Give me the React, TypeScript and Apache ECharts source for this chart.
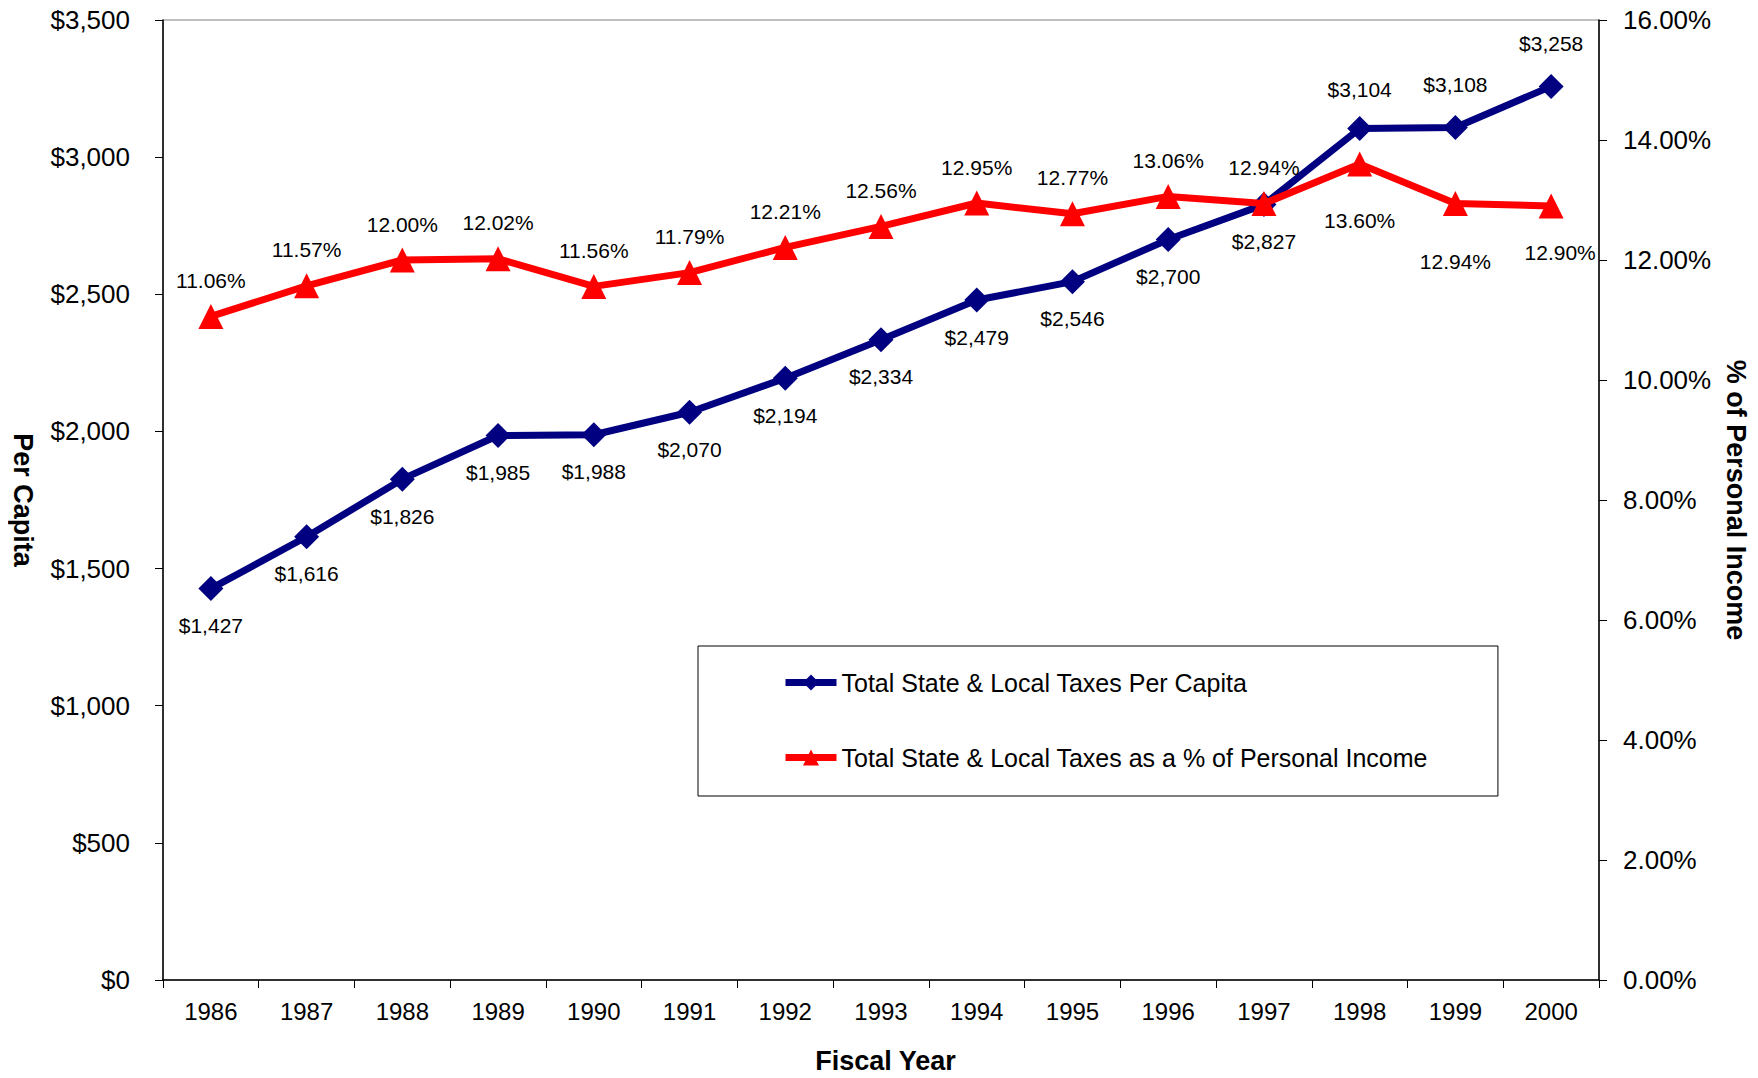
import React, { useEffect, useRef } from "react";
import * as echarts from "echarts";

const years = ["1986", "1987", "1988", "1989", "1990", "1991", "1992", "1993", "1994", "1995", "1996", "1997", "1998", "1999", "2000"];
const perCapita = [1427, 1616, 1826, 1985, 1988, 2070, 2194, 2334, 2479, 2546, 2700, 2827, 3104, 3108, 3258];
const pctIncome = [11.06, 11.57, 12.0, 12.02, 11.56, 11.79, 12.21, 12.56, 12.95, 12.77, 13.06, 12.94, 13.6, 12.94, 12.9];
const leftTicks = [0, 500, 1000, 1500, 2000, 2500, 3000, 3500];
const rightTicks = [0, 2, 4, 6, 8, 10, 12, 14, 16];

const seriesNames = [
  "Total State & Local Taxes Per Capita",
  "Total State & Local Taxes as a % of Personal Income",
];

const FONT = "Liberation Sans, Arial, sans-serif";

const fmtDollar = (v: number) => "$" + v.toLocaleString("en-US");
const fmtPct = (v: number) => v.toFixed(2) + "%";

export default function App() {
  const ref = useRef<HTMLDivElement>(null);
  useEffect(() => {
    if (!ref.current) return;
    const chart = echarts.init(ref.current, null, { renderer: "svg" });

    const blueData = perCapita.map((v, i) => {
      const yr = years[i];
      if (yr === "1998") return { value: v, label: { position: "top", distance: 16 } };
      if (yr === "1999" || yr === "2000") return { value: v, label: { position: "top", distance: 20 } };
      return { value: v };
    });
    const redData = pctIncome.map((v, i) => {
      const yr = years[i];
      if (yr === "1998") return { value: v, label: { position: "bottom", distance: 33 } };
      if (yr === "1999") return { value: v, label: { position: "bottom", distance: 35 } };
      if (yr === "2000") return { value: v, label: { position: "bottom", distance: 23, offset: [9, 0] } };
      return { value: v };
    });

    chart.setOption({
      animation: false,
      backgroundColor: "#ffffff",
      textStyle: { fontFamily: FONT },
      grid: {
        left: 163,
        right: 159,
        top: 20,
        bottom: 98,
        outerBoundsMode: "none",
        containLabel: false,
        show: true,
        borderColor: "#808080",
        borderWidth: 1,
        backgroundColor: "transparent",
      },
      legend: {
        orient: "vertical",
        left: 698,
        top: 646,
        padding: [24, 70, 26, 84],
        itemGap: 50,
        itemWidth: 51,
        itemHeight: 20,
        borderColor: "#000000",
        borderWidth: 1,
        backgroundColor: "#ffffff",
        lineStyle: { width: 7 },
        textStyle: { fontFamily: FONT, fontSize: 25, color: "#000" },
        data: seriesNames,
      },
      xAxis: {
        type: "category",
        data: years,
        boundaryGap: true,
        name: "Fiscal Year",
        nameLocation: "middle",
        nameGap: 67,
        nameTextStyle: { fontFamily: FONT, fontSize: 27, fontWeight: "bold", color: "#000", padding: [0, 0, 0, 9] },
        axisLine: { show: true, lineStyle: { color: "#000", width: 1.5 } },
        axisTick: { show: true, alignWithLabel: false, length: 8, lineStyle: { color: "#000" } },
        axisLabel: { fontFamily: FONT, fontSize: 24, color: "#000", margin: 19 },
        splitLine: { show: false },
      },
      yAxis: [
        {
          type: "value",
          min: leftTicks[0],
          max: leftTicks[leftTicks.length - 1],
          interval: leftTicks[1] - leftTicks[0],
          position: "left",
          name: "Per Capita",
          nameLocation: "middle",
          nameGap: 127,
          nameRotate: -90,
          nameTextStyle: { fontFamily: FONT, fontSize: 27, fontWeight: "bold", color: "#000" },
          axisLine: { show: true, lineStyle: { color: "#000", width: 1.5 } },
          axisTick: { show: true, length: 8, lineStyle: { color: "#000" } },
          axisLabel: { fontFamily: FONT, fontSize: 26, color: "#000", margin: 33, formatter: (v: number) => fmtDollar(v) },
          splitLine: { show: false },
        },
        {
          type: "value",
          min: rightTicks[0],
          max: rightTicks[rightTicks.length - 1],
          interval: rightTicks[1] - rightTicks[0],
          position: "right",
          name: "% of Personal Income",
          nameLocation: "middle",
          nameGap: 114,
          nameRotate: -90,
          nameTextStyle: { fontFamily: FONT, fontSize: 27, fontWeight: "bold", color: "#000" },
          axisLine: { show: true, lineStyle: { color: "#000", width: 1.5 } },
          axisTick: { show: true, length: 8, lineStyle: { color: "#000" } },
          axisLabel: { fontFamily: FONT, fontSize: 26, color: "#000", margin: 24, formatter: (v: number) => fmtPct(v) },
          splitLine: { show: false },
        },
      ],
      series: [
        {
          name: seriesNames[0],
          type: "line",
          yAxisIndex: 0,
          data: blueData,
          symbol: "diamond",
          symbolSize: 25,
          color: "#000080",
          lineStyle: { color: "#000080", width: 7 },
          itemStyle: { color: "#000080" },
          label: {
            show: true,
            position: "bottom",
            distance: 14,
            fontFamily: FONT,
            fontSize: 21,
            color: "#000",
            formatter: (p: any) => fmtDollar(p.value),
          },
          z: 2,
        },
        {
          name: seriesNames[1],
          type: "line",
          yAxisIndex: 1,
          data: redData,
          symbol: "triangle",
          symbolSize: 25,
          color: "#FF0000",
          lineStyle: { color: "#FF0000", width: 7 },
          itemStyle: { color: "#FF0000" },
          label: {
            show: true,
            position: "top",
            distance: 13,
            fontFamily: FONT,
            fontSize: 21,
            color: "#000",
            formatter: (p: any) => fmtPct(p.value),
          },
          z: 3,
        },
      ],
    });
    return () => chart.dispose();
  }, []);
  return <div ref={ref} style={{ width: 1758, height: 1078, margin: -8 }} />;
}
